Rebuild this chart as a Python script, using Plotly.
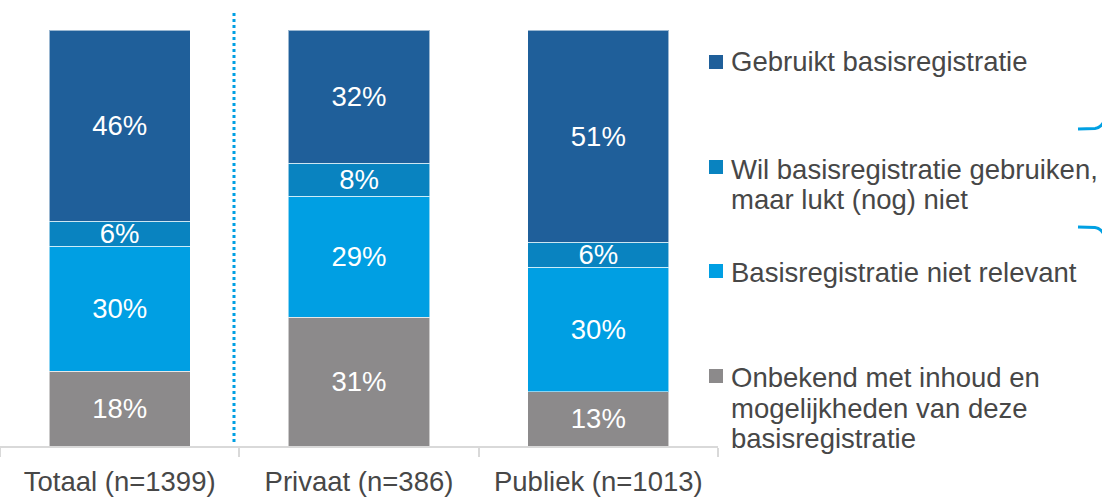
import plotly.graph_objects as go

# ---- data ----
categories = ["Totaal (n=1399)", "Privaat (n=386)", "Publiek (n=1013)"]
series_names = [
    "Onbekend met inhoud en mogelijkheden van deze basisregistratie",
    "Basisregistratie niet relevant",
    "Wil basisregistratie gebruiken, maar lukt (nog) niet",
    "Gebruikt basisregistratie",
]
onbekend = [18, 31, 13]
niet_relevant = [30, 29, 30]
wil_gebruiken = [6, 8, 6]
gebruikt = [46, 32, 51]
series_values = [onbekend, niet_relevant, wil_gebruiken, gebruikt]
colors = ["#8C8A8B", "#009FE3", "#0983C0", "#1F5F9A"]

# legend text lines (top to bottom), per series
legend_lines = {
    "Gebruikt basisregistratie": ["Gebruikt basisregistratie"],
    "Wil basisregistratie gebruiken, maar lukt (nog) niet": ["Wil basisregistratie gebruiken,", "maar lukt (nog) niet"],
    "Basisregistratie niet relevant": ["Basisregistratie niet relevant"],
    "Onbekend met inhoud en mogelijkheden van deze basisregistratie": ["Onbekend met inhoud en", "mogelijkheden van deze", "basisregistratie"],
}

W, H = 1102, 498
PL, PR, PT, PB = 0, 718, 30, 446  # plot area in px
FONT = "Arial, Liberation Sans, sans-serif"
FS = 27.5
TEXT_COLOR = "#474747"


def px(x):
    return (x - PL) / (PR - PL)


def py(y):
    return (PB - y) / (PB - PT)


fig = go.Figure()
for name, vals, col in zip(series_names, series_values, colors):
    fig.add_trace(go.Bar(
        x=categories, y=vals, name=name,
        marker=dict(color=col, line=dict(color="rgba(255,255,255,0.55)", width=1)),
        width=0.59,
        text=[f"{v}%" for v in vals],
        textposition="inside", insidetextanchor="middle", textangle=0,
        textfont=dict(color="white", size=FS, family=FONT),
        showlegend=False, hoverinfo="skip",
    ))

shapes = []
annotations = []

# separator dotted line between Totaal and others
shapes.append(dict(type="line", xref="paper", yref="paper",
                   x0=px(234), x1=px(234), y0=py(442), y1=py(10),
                   line=dict(color="#00A0E3", width=3, dash="dot")))

# decorative brackets at right edge
shapes.append(dict(type="path", xref="paper", yref="paper",
                   path=f"M {px(1078)},{py(129)} L {px(1095)},{py(128.5)} Q {px(1100)},{py(128)} {px(1103)},{py(123)}",
                   line=dict(color="#00A0E3", width=3)))
shapes.append(dict(type="path", xref="paper", yref="paper",
                   path=f"M {px(1078)},{py(227)} L {px(1095)},{py(227.5)} Q {px(1100)},{py(228)} {px(1103)},{py(233)}",
                   line=dict(color="#00A0E3", width=3)))

# custom legend
legend_order = ["Gebruikt basisregistratie",
                "Wil basisregistratie gebruiken, maar lukt (nog) niet",
                "Basisregistratie niet relevant",
                "Onbekend met inhoud en mogelijkheden van deze basisregistratie"]
legend_line_y = [[62], [169, 199], [272], [377, 408, 438]]
legend_square_y = [62, 167, 271, 376]
for name, ys, sy in zip(legend_order, legend_line_y, legend_square_y):
    col = colors[series_names.index(name)]
    shapes.append(dict(type="rect", xref="paper", yref="paper",
                       x0=px(709), x1=px(723), y0=py(sy + 7), y1=py(sy - 7),
                       fillcolor=col, line=dict(width=0)))
    for line, yy in zip(legend_lines[name], ys):
        annotations.append(dict(xref="paper", yref="paper", x=px(729), y=py(yy),
                                xanchor="left", yanchor="middle", text=line, showarrow=False,
                                font=dict(size=FS, color=TEXT_COLOR, family=FONT)))

fig.update_layout(
    width=W, height=H,
    margin=dict(l=PL, r=W - PR, t=PT, b=H - PB, pad=0),
    barmode="stack",
    plot_bgcolor="white", paper_bgcolor="white",
    uniformtext=dict(minsize=FS, mode="show"),
    xaxis=dict(range=[-0.5, 2.5], tickson="boundaries", ticks="outside", ticklen=9,
               tickcolor="#D9D9D9", tickwidth=2, showline=True, linecolor="#D9D9D9", linewidth=2,
               tickfont=dict(size=FS, color=TEXT_COLOR, family=FONT), showgrid=False,
               ticklabelstandoff=10),
    yaxis=dict(range=[0, 100], visible=False, showgrid=False),
    shapes=shapes, annotations=annotations,
    font=dict(family=FONT),
)

fig.write_html("out.html", config={"displayModeBar": False},
               post_script="document.body.style.margin='0';document.body.style.overflow='hidden';")
